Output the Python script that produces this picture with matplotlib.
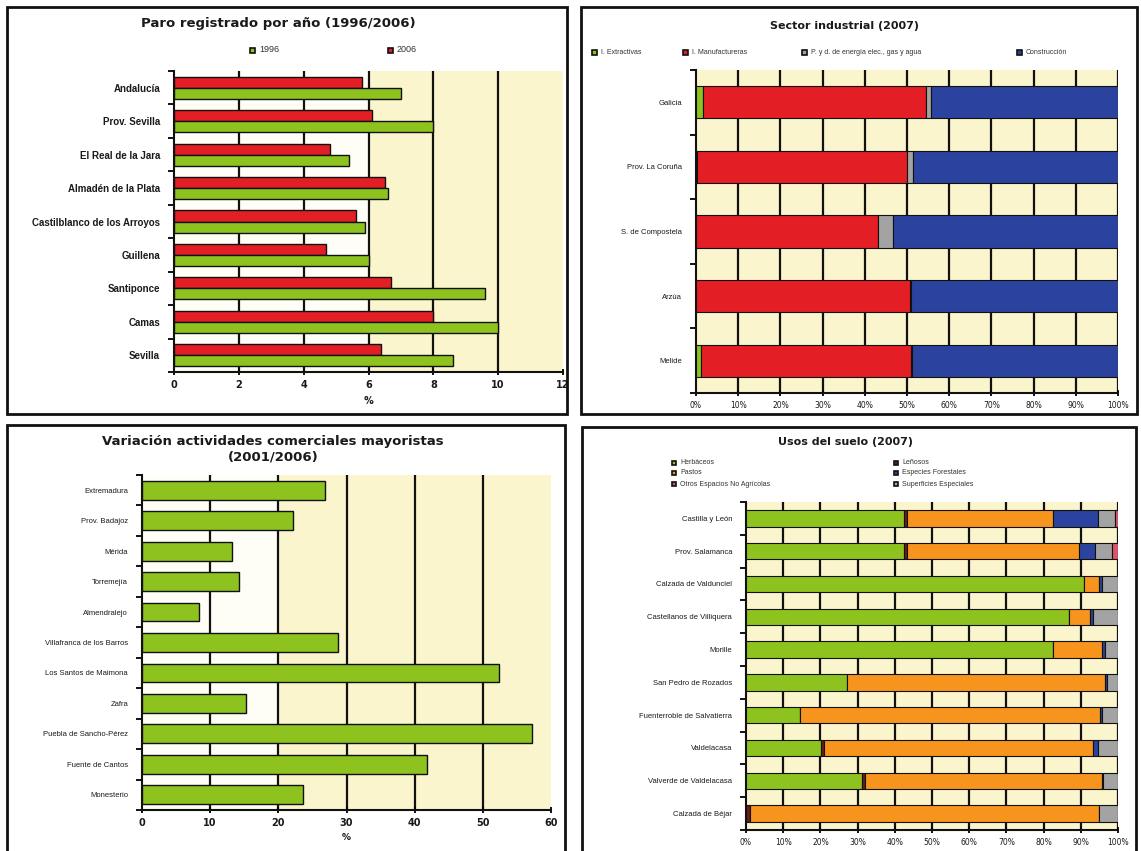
import numpy as np
import matplotlib.pyplot as plt
from matplotlib.patches import Rectangle

W, H = 1141, 851

# paro registrado
paro_cats = ['Andalucía', 'Prov. Sevilla', 'El Real de la Jara', 'Almadén de la Plata',
             'Castilblanco de los Arroyos', 'Guillena', 'Santiponce', 'Camas', 'Sevilla']
paro_1996 = [7.0, 8.0, 5.4, 6.6, 5.9, 6.0, 9.6, 10.0, 8.6]
paro_2006 = [5.8, 6.1, 4.8, 6.5, 5.6, 4.7, 6.7, 8.0, 6.4]

# sector industrial
ind_cats = ['Galicia', 'Prov. La Coruña', 'S. de Compostela', 'Arzúa', 'Melide']
ind_series = ['I. Extractivas', 'I. Manufactureras',
              'P. y d. de energía elec., gas y agua', 'Construcción']
ind_extract = [1.7, 0.3, 0.0, 0.0, 1.3]
ind_manuf = [52.7, 49.7, 43.2, 50.7, 49.7]
ind_energia = [1.2, 1.5, 3.4, 0.3, 0.3]
ind_constr = [44.4, 48.5, 53.4, 49.0, 48.7]

# comercio mayorista
com_cats = ['Extremadura', 'Prov. Badajoz', 'Mérida', 'Torremejía', 'Almendralejo',
            'Villafranca de los Barros', 'Los Santos de Maimona', 'Zafra',
            'Puebla de Sancho-Pérez', 'Fuente de Cantos', 'Monesterio']
com_var = [26.8, 22.2, 13.2, 14.2, 8.4, 28.8, 52.4, 15.3, 57.2, 41.8, 23.6]

# usos del suelo
suelo_cats = ['Castilla y León', 'Prov. Salamanca', 'Calzada de Valdunciel',
              'Castellanos de Villiquera', 'Morille', 'San Pedro de Rozados',
              'Fuenterroble de Salvatierra', 'Valdelacasa', 'Valverde de Valdelacasa',
              'Calzada de Béjar']
herbaceos = [42.4, 42.4, 90.8, 86.9, 82.5, 27.2, 14.6, 20.1, 31.1, 0.0]
lenosos = [1.0, 1.0, 0.0, 0.0, 0.0, 0.0, 0.0, 1.0, 0.9, 1.2]
pastos = [39.1, 46.2, 4.1, 5.6, 13.3, 69.4, 80.5, 72.1, 63.6, 93.7]
forestales = [12.2, 4.1, 0.7, 0.9, 0.8, 0.4, 0.7, 1.3, 0.4, 0.0]
especiales = [4.5, 4.6, 4.4, 6.6, 3.4, 3.0, 4.2, 5.5, 4.0, 5.1]
otros = [0.8, 1.7, 0.0, 0.0, 0.0, 0.0, 0.0, 0.0, 0.0, 0.0]

GREEN = '#8DC21F'
RED = '#E41E25'
BLUE = '#2B439F'
GRAY = '#A3A3A3'
ORANGE = '#F7941E'
DKRED = '#6E1B1B'
PINK = '#D9556A'
CREAM = '#FBF5CD'
PALE = '#FFFEF6'
TXT = '#1a1a1a'

plt.rcParams['font.family'] = ['DejaVu Sans']

fig = plt.figure(figsize=(W / 100, H / 100), dpi=100)


def box(x0, y0, x1, y1):
    return [x0 / W, 1 - y1 / H, (x1 - x0) / W, (y1 - y0) / H]


def frame(x0, y0, x1, y1):
    fig.add_artist(Rectangle((x0 / W, 1 - y1 / H), (x1 - x0) / W, (y1 - y0) / H,
                             transform=fig.transFigure, fill=False, lw=2, ec='#111'))


def key(x, y, color, label, size=5.5, sq=5):
    fig.add_artist(Rectangle((x / W, 1 - (y + sq / 2) / H), sq / W, sq / H,
                             transform=fig.transFigure, fc=color, ec='#111', lw=1.2))
    fig.text((x + sq + 4) / W, 1 - y / H, label, fontsize=size, va='center',
             ha='left', color='#333', family='Liberation Sans')


def style(ax, n, xmax, step, grid, pct=False, bold=False, tsize=7, lsize=7):
    ax.set_xlim(0, xmax)
    ax.set_ylim(n - 0.5, -0.5)
    for s in ['top', 'right']:
        ax.spines[s].set_visible(False)
    for s in ['left', 'bottom']:
        ax.spines[s].set_linewidth(1.5)
        ax.spines[s].set_color('#111')
    for g in grid:
        ax.axvline(g, color='#111', lw=1.6, zorder=1)
    ticks = np.arange(0, xmax + step / 2, step)
    ax.set_xticks(ticks)
    if pct:
        ax.set_xticklabels([f'{int(t)}%' for t in ticks])
    ax.set_yticks(np.arange(n))
    ax.set_yticks(np.arange(n + 1) - 0.5, minor=True)
    ax.tick_params(axis='y', which='major', length=0, pad=10, labelsize=lsize, labelcolor=TXT)
    ax.tick_params(axis='y', which='minor', length=4, width=1.3, direction='out')
    ax.tick_params(axis='x', length=4, width=1.3, direction='inout', labelsize=tsize,
                   labelcolor=TXT, pad=4)
    if bold:
        for t in ax.get_xticklabels() + ax.get_yticklabels():
            t.set_fontweight('bold')
    for t in ax.get_yticklabels():
        t.set_family('Liberation Sans')


# --- Paro registrado ---
frame(7, 7, 567, 414)
ax1 = fig.add_axes(box(174, 71, 563, 372))
ax1.set_facecolor(CREAM)
ax1.axvspan(0, 6, color=PALE, zorder=0)
y = np.arange(len(paro_cats))
ax1.barh(y - 0.165, paro_2006, height=0.33, color=RED, ec='#111', lw=1, zorder=3)
ax1.barh(y + 0.165, paro_1996, height=0.33, color=GREEN, ec='#111', lw=1, zorder=3)
ax1.set_yticks(y)
ax1.set_yticklabels(paro_cats)
style(ax1, len(paro_cats), 12, 2, [2, 4, 6, 8, 10], bold=True, tsize=7, lsize=7)
ax1.set_xlabel('%', fontsize=7, fontweight='bold', labelpad=4, color=TXT)
fig.text(278 / W, 1 - 23 / H, 'Paro registrado por año (1996/2006)', ha='center',
         va='center', fontsize=9.5, fontweight='bold', color=TXT)
key(250, 50, GREEN, '1996', size=6.5)
key(388, 50, RED, '2006', size=6.5)

# --- Sector industrial ---
frame(581, 7, 1137, 414)
ax2 = fig.add_axes(box(696, 70, 1118, 393))
ax2.set_facecolor(CREAM)
y = np.arange(len(ind_cats))
left = np.zeros(len(ind_cats))
for vals, col in zip([ind_extract, ind_manuf, ind_energia, ind_constr],
                     [GREEN, RED, GRAY, BLUE]):
    ax2.barh(y, vals, left=left, height=0.5, color=col, ec='#111', lw=0.8, zorder=3)
    left += np.array(vals)
ax2.set_yticks(y)
ax2.set_yticklabels(ind_cats)
style(ax2, len(ind_cats), 100, 10, range(10, 101, 10), pct=True, tsize=5.5, lsize=5.5)
fig.text(845 / W, 1 - 26 / H, 'Sector industrial (2007)', ha='center', va='center',
         fontsize=8, fontweight='bold', color=TXT)
for x, col, lab in zip([592, 683, 802, 1017], [GREEN, RED, GRAY, BLUE], ind_series):
    key(x, 52, col, lab, size=5)

# --- Comercio mayorista ---
frame(7, 425, 565, 853)
ax3 = fig.add_axes(box(142, 475, 551, 810))
ax3.set_facecolor(CREAM)
ax3.axvspan(0, 20, color=PALE, zorder=0)
y = np.arange(len(com_cats))
ax3.barh(y, com_var, height=0.62, color=GREEN, ec='#111', lw=1, zorder=3)
ax3.set_yticks(y)
ax3.set_yticklabels(com_cats)
style(ax3, len(com_cats), 60, 10, [10, 20, 30, 40, 50], tsize=7, lsize=5.5)
for t in ax3.get_xticklabels():
    t.set_fontweight('bold')
ax3.set_xlabel('%', fontsize=6.5, fontweight='bold', labelpad=3, color=TXT)
fig.text(273 / W, 1 - 449 / H, 'Variación actividades comerciales mayoristas\n(2001/2006)',
         ha='center', va='center', fontsize=9.5, fontweight='bold', color=TXT,
         linespacing=1.2)

# --- Usos del suelo ---
frame(582, 427, 1136, 853)
ax4 = fig.add_axes(box(746, 502, 1118, 830))
ax4.set_facecolor(CREAM)
y = np.arange(len(suelo_cats))
left = np.zeros(len(suelo_cats))
for vals, col in zip([herbaceos, lenosos, pastos, forestales, especiales, otros],
                     [GREEN, DKRED, ORANGE, BLUE, GRAY, PINK]):
    ax4.barh(y, vals, left=left, height=0.5, color=col, ec='#111', lw=0.8, zorder=3)
    left += np.array(vals)
ax4.set_yticks(y)
ax4.set_yticklabels(suelo_cats)
style(ax4, len(suelo_cats), 100, 10, range(10, 101, 10), pct=True, tsize=5.5, lsize=5.5)
fig.text(846 / W, 1 - 442 / H, 'Usos del suelo (2007)', ha='center', va='center',
         fontsize=8, fontweight='bold', color=TXT)
for (x, yy), col, lab in zip([(672, 463), (672, 473), (672, 484),
                              (894, 463), (894, 473), (894, 484)],
                             [GREEN, ORANGE, PINK, DKRED, BLUE, GRAY],
                             ['Herbáceos', 'Pastos', 'Otros Espacios No Agrícolas',
                              'Leñosos', 'Especies Forestales', 'Superficies Especiales']):
    key(x, yy, col, lab, size=5, sq=4)

fig.savefig('out.png', dpi=100)
